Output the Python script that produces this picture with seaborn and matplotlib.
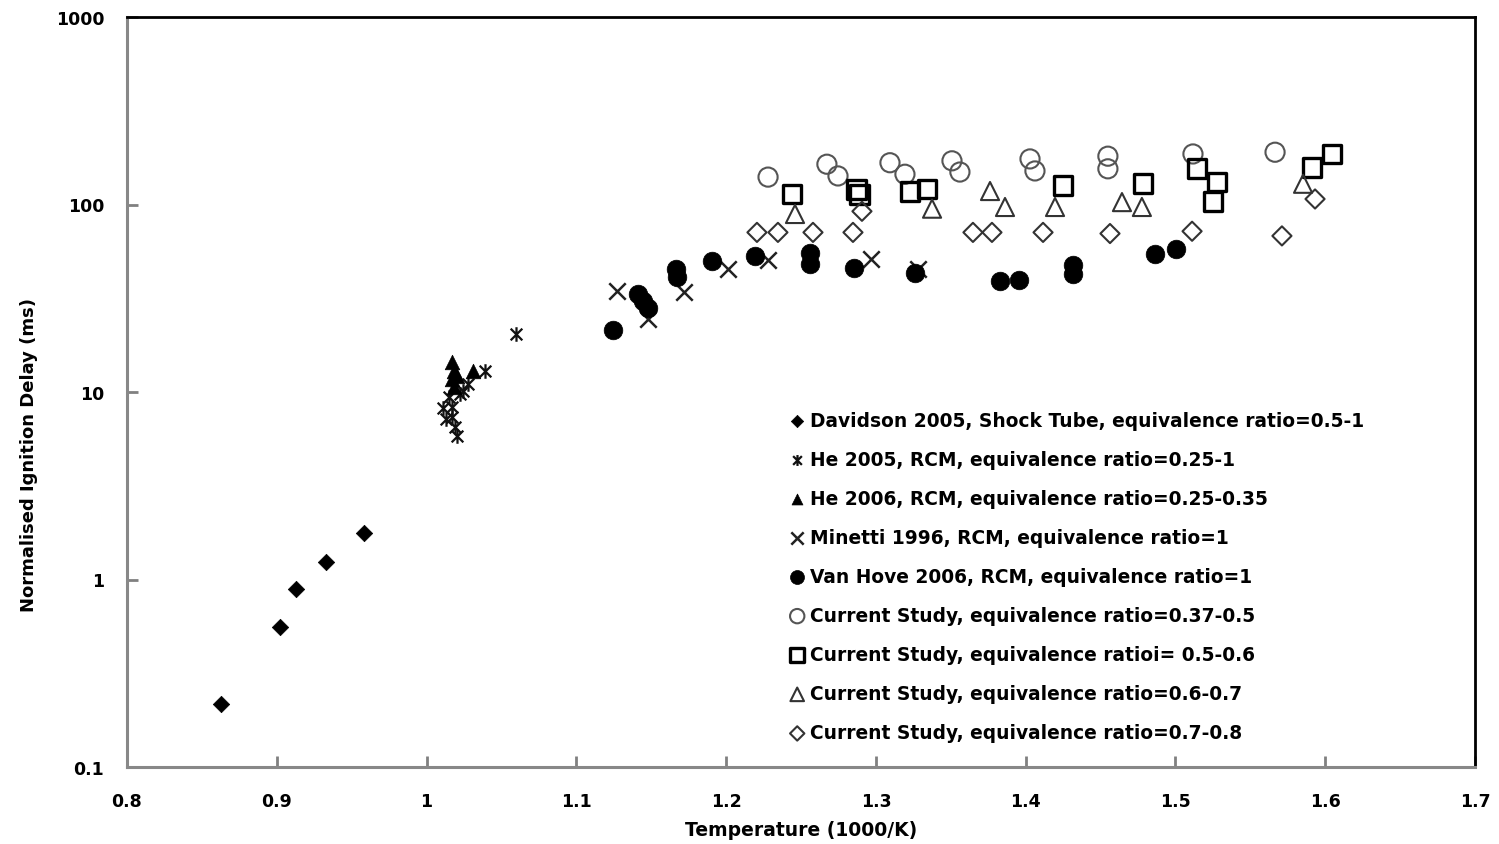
import matplotlib
matplotlib.use("Agg")
import matplotlib.pyplot as plt
import matplotlib.ticker as mticker
from matplotlib.path import Path
import seaborn as sns

# Ignition delay data: x = 1000/T (1/K), y = normalised ignition delay (ms)
davidson_x = [0.863, 0.902, 0.913, 0.933, 0.958]
davidson_y = [0.217, 0.558, 0.889, 1.24, 1.77]

he2005_x = [1.011, 1.013, 1.015, 1.017, 1.017, 1.019, 1.020, 1.022, 1.024, 1.028, 1.039, 1.060]
he2005_y = [8.2, 7.2, 9.4, 8.3, 7.4, 6.5, 5.8, 9.8, 10.1, 11.0, 13.0, 20.4]

he2006_x = [1.017, 1.018, 1.017, 1.018, 1.020, 1.031]
he2006_y = [14.5, 13.0, 11.7, 10.6, 12.2, 13.0]

minetti_x = [1.127, 1.148, 1.172, 1.201, 1.228, 1.297, 1.328]
minetti_y = [34.6, 24.5, 34.1, 45.3, 50.6, 51.2, 45.3]

vanhove_x = [1.1245, 1.1412, 1.1445, 1.1478, 1.1666, 1.1673, 1.1906, 1.2193, 1.2560,
             1.2560, 1.2854, 1.3260, 1.3829, 1.3955, 1.4316, 1.4316, 1.4863, 1.5003]
vanhove_y = [21.4, 33.5, 30.5, 27.9, 45.3, 41.0, 50.0, 53.1, 55.1,
             48.1, 45.9, 43.1, 39.1, 39.5, 47.5, 42.6, 54.5, 57.9]

cs1_x = [1.228, 1.2673, 1.2747, 1.3094, 1.3194, 1.3508, 1.3561, 1.4029, 1.4062,
         1.4549, 1.4549, 1.5117, 1.5665]
cs1_y = [140, 164, 142, 167, 145, 171, 149, 175, 151, 181, 155, 186, 190]

cs2_x = [1.244, 1.287, 1.289, 1.3228, 1.3341, 1.4249, 1.4783, 1.5144, 1.5277, 1.5251,
         1.5912, 1.6045]
cs2_y = [114, 120, 113, 117, 121, 126, 129, 155, 132, 104, 158, 186]

cs3_x = [1.246, 1.3375, 1.3762, 1.3862, 1.4196, 1.4643, 1.4776, 1.5852]
cs3_y = [89, 95, 118, 97, 97, 103, 97, 129]

cs4_x = [1.2206, 1.2346, 1.258, 1.2847, 1.2907, 1.3648, 1.3775, 1.4116, 1.4563,
         1.5111, 1.5711, 1.5932]
cs4_y = [71, 71, 71, 71, 92, 71, 71, 71, 70, 72, 68, 107]

labels = [
    "Davidson 2005, Shock Tube, equivalence ratio=0.5-1",
    "He 2005, RCM, equivalence ratio=0.25-1",
    "He 2006, RCM, equivalence ratio=0.25-0.35",
    "Minetti 1996, RCM, equivalence ratio=1",
    "Van Hove 2006, RCM, equivalence ratio=1",
    "Current Study, equivalence ratio=0.37-0.5",
    "Current Study, equivalence ratioi= 0.5-0.6",
    "Current Study, equivalence ratio=0.6-0.7",
    "Current Study, equivalence ratio=0.7-0.8",
]

x_ticks = [0.8, 0.9, 1.0, 1.1, 1.2, 1.3, 1.4, 1.5, 1.6, 1.7]
y_ticks = [0.1, 1, 10, 100, 1000]

sns.set_theme(style="ticks")
plt.rcParams["font.family"] = ["DejaVu Sans"]
plt.rcParams["text.color"] = "black"
plt.rcParams["axes.labelcolor"] = "black"

# asterisk marker: an X with a vertical bar
asterisk = Path([(-1, -1), (1, 1), (-1, 1), (1, -1), (0, -1.25), (0, 1.25)],
                [Path.MOVETO, Path.LINETO] * 3)

fig = plt.figure(figsize=(14.99, 8.45), dpi=100)
ax = fig.add_axes([127 / 1499, 1 - 768 / 845, 1348 / 1499, 750 / 845])

series = [
    (davidson_x, davidson_y, dict(marker="D", s=70, color="black", edgecolor="black", linewidth=0.5)),
    (he2005_x, he2005_y, dict(marker=asterisk, s=110, color="black", edgecolor="#111111", linewidth=1.6)),
    (he2006_x, he2006_y, dict(marker="^", s=110, color="black", edgecolor="black", linewidth=0.5)),
    (minetti_x, minetti_y, dict(marker="x", s=140, color="#222222", linewidth=1.8)),
    (vanhove_x, vanhove_y, dict(marker="o", s=180, color="black", edgecolor="black", linewidth=0.5)),
    (cs1_x, cs1_y, dict(marker="o", s=190, color="none", edgecolor="#555555", linewidth=1.5)),
    (cs2_x, cs2_y, dict(marker="s", s=180, color="none", edgecolor="black", linewidth=2.4)),
    (cs3_x, cs3_y, dict(marker="^", s=170, color="none", edgecolor="#333333", linewidth=1.5)),
    (cs4_x, cs4_y, dict(marker="D", s=95, color="none", edgecolor="#333333", linewidth=1.5)),
]

for (xs, ys, kw), lab in zip(series, labels):
    sns.scatterplot(x=xs, y=ys, ax=ax, label=lab, zorder=3, **kw)

ax.set_yscale("log")
ax.set_xlim(0.8, 1.7)
ax.set_ylim(0.1, 1000)
ax.set_xticks(x_ticks)
ax.set_yticks(y_ticks)
ax.xaxis.set_major_formatter(mticker.FuncFormatter(lambda v, p: f"{v:g}"))
ax.yaxis.set_major_formatter(mticker.FuncFormatter(lambda v, p: f"{v:g}"))
ax.yaxis.set_minor_locator(mticker.NullLocator())
ax.xaxis.set_minor_locator(mticker.NullLocator())

ax.tick_params(axis="both", which="major", direction="in", color="#808080", width=2.0,
               length=8, labelcolor="black", labelsize=12.5, left=True, bottom=True,
               right=False, top=False)
ax.tick_params(axis="y", pad=16.5)
ax.tick_params(axis="x", pad=18)
for lab in ax.get_xticklabels() + ax.get_yticklabels():
    lab.set_fontweight("bold")

for side in ("left", "bottom"):
    ax.spines[side].set_color("#888888")
    ax.spines[side].set_linewidth(2.2)
for side in ("top", "right"):
    ax.spines[side].set_color("black")
    ax.spines[side].set_linewidth(2.0)

ax.set_xlabel("Temperature (1000/K)", fontsize=13.5, fontweight="bold", labelpad=7,
              color="black")
ax.set_ylabel("Normalised Ignition Delay (ms)", fontsize=13, fontweight="bold",
              color="black")
ax.yaxis.set_label_coords(-0.066, 0.417)

leg = ax.legend(loc="upper left", bbox_to_anchor=(0.4896, 0.4753), frameon=False,
                borderpad=0, borderaxespad=0, handlelength=1.1, handletextpad=0.15,
                labelspacing=1.08, prop={"size": 13.4, "weight": "bold"}, markerscale=0.75)
for t in leg.get_texts():
    t.set_color("black")

fig.savefig("out.png", dpi=100, facecolor="white")
